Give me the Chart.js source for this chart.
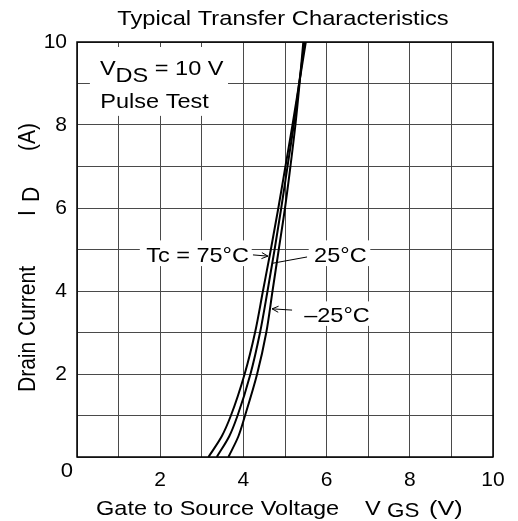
<!DOCTYPE html>
<html>
<head>
<meta charset="utf-8">
<script src="https://cdn.jsdelivr.net/npm/chart.js@4/dist/chart.umd.min.js"></script>
<style>
  html, body { margin: 0; padding: 0; background: #fff; }
  #wrap { width: 518px; height: 521px; position: relative; }
</style>
</head>
<body>
<div id="wrap"><canvas id="c"></canvas></div>
<script>
// ---- data ----
const drainCurrent = [0, 0.5, 1, 2, 3, 4, 5, 6, 7, 8, 9, 10];          // I_D (A)
const vgsTc75  = [3.16, 3.48, 3.70, 4.03, 4.28, 4.47, 4.66, 4.84, 5.01, 5.18, 5.34, 5.50];
const vgsTc25  = [3.36, 3.66, 3.86, 4.17, 4.40, 4.58, 4.75, 4.91, 5.06, 5.21, 5.34, 5.47];
const vgsTcM25 = [3.64, 3.88, 4.04, 4.33, 4.55, 4.70, 4.85, 5.00, 5.13, 5.25, 5.35, 5.44];
const seriesNames = ['Tc = 75°C', '25°C', '–25°C'];
const xTickLabels = [2, 4, 6, 8, 10];
const yTickLabels = [2, 4, 6, 8, 10];
const titleText = 'Typical Transfer Characteristics';

const FONT = '"Liberation Sans", Arial, sans-serif';
const SX = 1.12; // horizontal stretch of the reference lettering

function pts(xs) { return xs.map((v, i) => ({ x: v, y: drainCurrent[i] })); }

function ds(label, xs) {
  return {
    label, data: pts(xs), showLine: true, indexAxis: 'y',
    borderColor: '#000', borderWidth: 2, pointRadius: 0,
    cubicInterpolationMode: 'monotone', fill: false
  };
}

function sText(ctx, txt, x, y, size, align, sx) {
  ctx.save();
  ctx.font = size + 'px ' + FONT;
  ctx.textAlign = align;
  ctx.textBaseline = 'alphabetic';
  ctx.translate(x, y);
  ctx.scale(sx === undefined ? SX : sx, 1);
  ctx.fillText(txt, 0, 0);
  ctx.restore();
}

function arrowHead(ctx, x1, y1, x2, y2) {
  const a = Math.atan2(y2 - y1, x2 - x1), L = 7, w = 0.45;
  ctx.beginPath();
  ctx.moveTo(x2 - L * Math.cos(a - w), y2 - L * Math.sin(a - w));
  ctx.lineTo(x2, y2);
  ctx.lineTo(x2 - L * Math.cos(a + w), y2 - L * Math.sin(a + w));
  ctx.stroke();
}

const decor = {
  id: 'decor',
  beforeDatasetsDraw(chart) {
    const { ctx, chartArea: ca } = chart;
    const X = v => chart.scales.x.getPixelForValue(v);
    const Y = v => chart.scales.y.getPixelForValue(v);
    ctx.save();
    ctx.fillStyle = '#fff';
    // white label backgrounds
    ctx.fillRect(X(0.31), Y(9.88), X(3.63) - X(0.31), Y(8.22) - Y(9.88));
    ctx.fillRect(X(1.51), Y(5.22), X(4.20) - X(1.51), Y(4.60) - Y(5.22));
    ctx.fillRect(X(5.57), Y(5.22), X(7.05) - X(5.57), Y(4.60) - Y(5.22));
    ctx.fillRect(X(5.36), Y(3.75), X(7.12) - X(5.36), Y(3.16) - Y(3.75));
    // frame
    ctx.strokeStyle = '#000';
    ctx.lineWidth = 1.5;
    ctx.strokeRect(ca.left, ca.top, ca.right - ca.left, ca.bottom - ca.top);
    ctx.restore();
  },
  afterDraw(chart) {
    const { ctx, chartArea: ca } = chart;
    const X = v => chart.scales.x.getPixelForValue(v);
    const Y = v => chart.scales.y.getPixelForValue(v);
    ctx.save();
    ctx.fillStyle = '#000';
    ctx.strokeStyle = '#000';

    // title
    sText(ctx, titleText, (ca.left + ca.right) / 2 - 2, 25, 21, 'center', 1.13);

    // origin label
    sText(ctx, '0', ca.left - 10, ca.bottom + 20, 21, 'center', 1.05);

    // V_DS box text
    sText(ctx, 'V', X(0.553), Y(9.205), 21, 'left');
    sText(ctx, 'DS', X(0.925), Y(9.036), 21, 'left');
    sText(ctx, '= 10 V', X(1.87), Y(9.205), 21, 'left');
    sText(ctx, 'Pulse Test', X(0.56), Y(8.41), 21, 'left');

    // curve labels
    sText(ctx, seriesNames[0], X(4.135), Y(4.70), 21, 'right');
    sText(ctx, seriesNames[1], X(5.70), Y(4.70), 21, 'left');
    sText(ctx, seriesNames[2], X(5.46), Y(3.25), 21, 'left');

    // arrows / leader lines
    ctx.lineWidth = 1;
    ctx.beginPath(); ctx.moveTo(X(4.23), Y(4.87)); ctx.lineTo(X(4.59), Y(4.84)); ctx.stroke();
    arrowHead(ctx, X(4.23), Y(4.87), X(4.59), Y(4.84));
    ctx.beginPath(); ctx.moveTo(X(5.53), Y(4.82)); ctx.lineTo(X(4.71), Y(4.67)); ctx.stroke();
    ctx.beginPath(); ctx.moveTo(X(5.17), Y(3.54)); ctx.lineTo(X(4.69), Y(3.57)); ctx.stroke();
    arrowHead(ctx, X(5.17), Y(3.54), X(4.69), Y(3.57));

    // x axis title
    sText(ctx, 'Gate to Source Voltage', 96, 515, 21, 'left');
    sText(ctx, 'V', 365, 515, 21, 'left');
    sText(ctx, 'GS', 387, 517, 20, 'left');
    sText(ctx, '(V)', 429, 515, 21, 'left', 1.2);

    // y axis title (rotated)
    ctx.translate(35, 392);
    ctx.scale(SX, 1);
    ctx.rotate(-Math.PI / 2);
    ctx.textAlign = 'left';
    ctx.textBaseline = 'alphabetic';
    ctx.font = '21px ' + FONT;
    ctx.fillText('Drain Current', 0, 0);
    ctx.fillText('I', 176, 0);
    ctx.fillText('D', 190, 4);
    ctx.fillText('(A)', 241, 0);
    ctx.restore();
  }
};

const tickFont = { family: FONT, size: 21 };

new Chart(document.getElementById('c'), {
  type: 'scatter',
  data: {
    datasets: [ds(seriesNames[0], vgsTc75), ds(seriesNames[1], vgsTc25), ds(seriesNames[2], vgsTcM25)]
  },
  options: {
    responsive: true,
    maintainAspectRatio: false,
    animation: false,
    layout: { padding: { top: 42, right: 25, left: 0, bottom: 0 } },
    plugins: { legend: { display: false }, tooltip: { enabled: false }, title: { display: false } },
    scales: {
      x: {
        type: 'linear', min: 0, max: 10,
        ticks: {
          stepSize: 1, color: '#000', font: tickFont, padding: 11, maxRotation: 0, autoSkip: false,
          callback: v => xTickLabels.includes(v) ? String(v) : ''
        },
        grid: { color: '#4a4a4a', lineWidth: 1, drawTicks: false },
        border: { display: false },
        afterFit: s => { s.height = 64; s.paddingLeft = 0; s.paddingRight = 0; }
      },
      y: {
        type: 'linear', min: 0, max: 10,
        ticks: {
          stepSize: 1, color: '#000', font: tickFont, padding: 10, autoSkip: false,
          callback: v => yTickLabels.includes(v) ? String(v) : ''
        },
        grid: { color: '#4a4a4a', lineWidth: 1, drawTicks: false },
        border: { display: false },
        afterFit: s => { s.width = 77; s.paddingTop = 0; s.paddingBottom = 0; }
      }
    }
  },
  plugins: [decor]
});
</script>
</body>
</html>
